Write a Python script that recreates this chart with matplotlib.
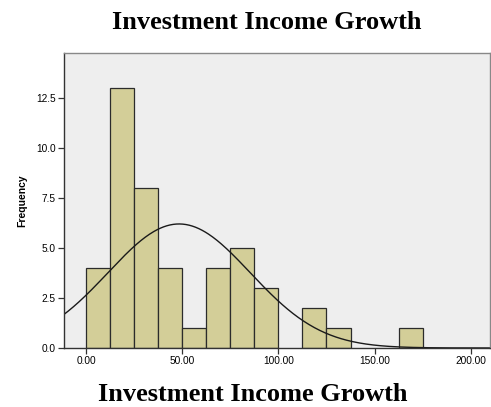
import numpy as np
import matplotlib.pyplot as plt

# histogram bins (width 12.5) and counts
bin_edges = [0.0, 12.5, 25.0, 37.5, 50.0, 62.5, 75.0, 87.5, 100.0,
             112.5, 125.0, 137.5, 150.0, 162.5, 175.0]
counts = [4, 13, 8, 4, 1, 4, 5, 3, 0, 2, 1, 0, 0, 1]

# fitted normal curve
mean_val = 48.4
std_val = 37.0

x_ticks = [0, 50, 100, 150, 200]
x_labels = ["0.00", "50.00", "100.00", "150.00", "200.00"]
y_ticks = [0.0, 2.5, 5.0, 7.5, 10.0, 12.5]
y_labels = ["0.0", "2.5", "5.0", "7.5", "10.0", "12.5"]

title = "Investment Income Growth"

fig = plt.figure(figsize=(4.91, 4.07), dpi=100)
ax = fig.add_axes([0.130, 0.145, 0.868, 0.725])
ax.set_facecolor("#eeeeee")

edges = np.array(bin_edges)
widths = np.diff(edges)
for left, w, c in zip(edges[:-1], widths, counts):
    if c > 0:
        ax.bar(left, c, width=w, align="edge", color="#d3ce98",
               edgecolor="#2b2b2b", linewidth=0.9)

n_total = sum(counts)
xs = np.linspace(-12, 210, 400)
pdf = np.exp(-0.5 * ((xs - mean_val) / std_val) ** 2) / (std_val * np.sqrt(2 * np.pi))
ax.plot(xs, n_total * widths[0] * pdf, color="#1a1a1a", linewidth=1.0)

ax.set_xlim(-11.5, 210)
ax.set_ylim(0, 14.75)

ax.set_xticks(x_ticks)
ax.set_xticklabels(x_labels, fontfamily="Liberation Sans", fontsize=7.3)
ax.set_yticks(y_ticks)
ax.set_yticklabels(y_labels, fontfamily="Liberation Sans", fontsize=7.3)
ax.tick_params(axis="both", direction="out", length=4, width=0.9,
               color="#333333", pad=2)

for side in ["top", "right"]:
    ax.spines[side].set_color("#888888")
    ax.spines[side].set_linewidth(1.0)
for side in ["left", "bottom"]:
    ax.spines[side].set_color("#333333")
    ax.spines[side].set_linewidth(1.0)

ax.set_ylabel("Frequency", fontfamily="Liberation Sans", fontweight="bold",
              fontsize=7.5, labelpad=6)

fig.text(0.544, 0.945, title, ha="center", va="center",
         fontfamily="Liberation Serif", fontweight="bold", fontsize=19)
fig.text(0.515, 0.030, title, ha="center", va="center",
         fontfamily="Liberation Serif", fontweight="bold", fontsize=19)

fig.savefig("out.png", dpi=100)
